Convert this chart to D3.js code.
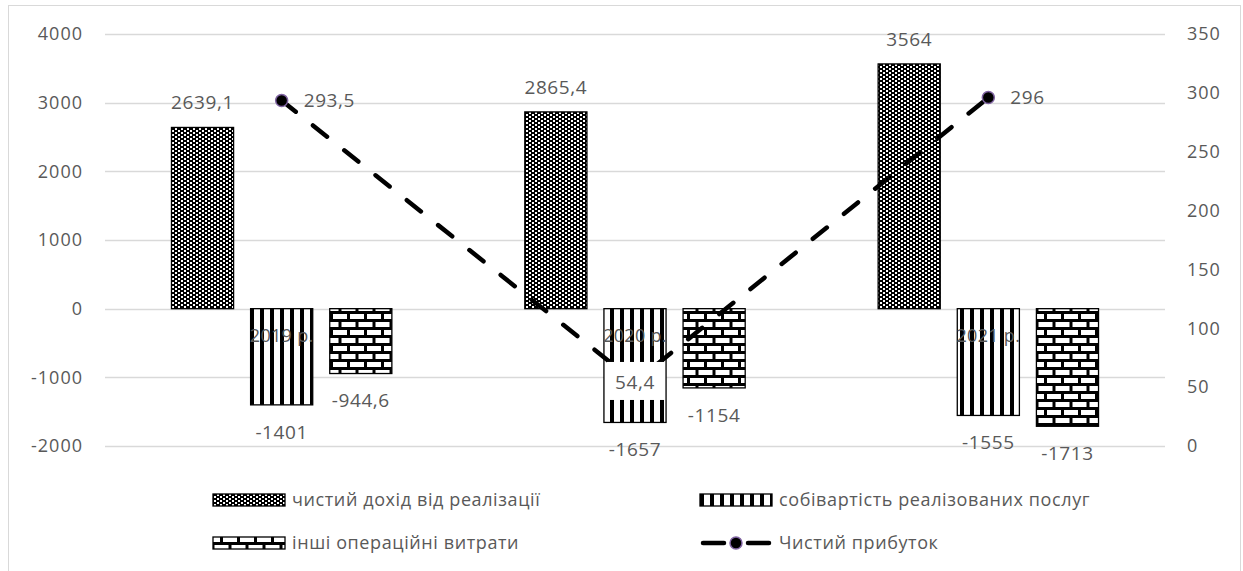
<!DOCTYPE html>
<html>
<head>
<meta charset="utf-8">
<script src="https://cdn.jsdelivr.net/npm/d3@7"></script>
<style>
  body { margin: 0; background: #fff; }
  text { font-family: "Open Sans", sans-serif; fill: #595959; }
</style>
</head>
<body>
<div id="chart"></div>
<script>
// data
var years = ["2019 р.", "2020 р.", "2021 р."];
var seriesNames = ["чистий дохід від реалізації", "собівартість реалізованих послуг", "інші операційні витрати"];
var revenue = [2639.1, 2865.4, 3564];
var cost = [-1401, -1657, -1555];
var otherCosts = [-944.6, -1154, -1713];
var profitName = "Чистий прибуток";
var profit = [293.5, 54.4, 296];
var leftTicks = [-2000, -1000, 0, 1000, 2000, 3000, 4000];
var rightTicks = [0, 50, 100, 150, 200, 250, 300, 350];

var W = 1243, H = 571;
var plot = {left: 105, right: 1165, top: 34, bottom: 446};
var fmt = function(v) { return String(v).replace(".", ","); };

var svg = d3.select("#chart").append("svg").attr("width", W).attr("height", H);
var defs = svg.append("defs");

// pattern 1: dense checker
var p1 = defs.append("pattern").attr("id", "pat0").attr("patternUnits", "userSpaceOnUse")
  .attr("width", 6).attr("height", 4);
p1.append("rect").attr("width", 6).attr("height", 4).attr("fill", "#000");
p1.append("rect").attr("x", 1).attr("y", 0).attr("width", 2).attr("height", 2).attr("fill", "#fff");
p1.append("rect").attr("x", 4).attr("y", 2).attr("width", 2).attr("height", 2).attr("fill", "#fff");

// pattern 2: vertical stripes
var p2 = defs.append("pattern").attr("id", "pat1").attr("patternUnits", "userSpaceOnUse")
  .attr("width", 10).attr("height", 10);
p2.append("rect").attr("width", 10).attr("height", 10).attr("fill", "#fff");
p2.append("rect").attr("x", 0).attr("width", 4).attr("height", 10).attr("fill", "#000");

// pattern 3: bricks
var p3 = defs.append("pattern").attr("id", "pat2").attr("patternUnits", "userSpaceOnUse")
  .attr("width", 17).attr("height", 16);
p3.append("rect").attr("width", 17).attr("height", 16).attr("fill", "#000");
p3.append("rect").attr("x", 1.5).attr("y", 2).attr("width", 14).attr("height", 5).attr("fill", "#fff");
p3.append("rect").attr("x", -7).attr("y", 10).attr("width", 14).attr("height", 5).attr("fill", "#fff");
p3.append("rect").attr("x", 10).attr("y", 10).attr("width", 14).attr("height", 5).attr("fill", "#fff");

// chart border
svg.append("rect").attr("x", 8.5).attr("y", 5.5).attr("width", 1232).attr("height", 570)
  .attr("fill", "none").attr("stroke", "#d9d9d9");

var y = d3.scaleLinear().domain([-2000, 4000]).range([plot.bottom, plot.top]);
var y2 = d3.scaleLinear().domain([0, 350]).range([plot.bottom, plot.top]);
var x0 = d3.scaleBand().domain(years).range([plot.left, plot.right]);
var x1 = d3.scaleBand().domain([0, 1, 2]).range([0, x0.bandwidth()])
  .paddingInner(0.215).paddingOuter(0.84);

// gridlines
svg.append("g").selectAll("line").data(leftTicks).join("line")
  .attr("x1", plot.left).attr("x2", plot.right)
  .attr("y1", function(d) { return Math.round(y(d)) + 0.5; })
  .attr("y2", function(d) { return Math.round(y(d)) + 0.5; })
  .attr("stroke", "#d9d9d9").attr("stroke-width", 1.3);

// axes
var axL = svg.append("g").attr("transform", "translate(" + plot.left + ",0)")
  .call(d3.axisLeft(y).tickValues(leftTicks).tickSize(0).tickPadding(22)
    .tickFormat(function(d) { return String(d); }));
axL.select(".domain").remove();
axL.selectAll("text").style("font-size", "18px").style("letter-spacing", "1px")
  .style("font-family", "Open Sans").attr("fill", "#595959");

var axR = svg.append("g").attr("transform", "translate(" + plot.right + ",0)")
  .call(d3.axisRight(y2).tickValues(rightTicks).tickSize(0).tickPadding(22)
    .tickFormat(function(d) { return String(d); }));
axR.select(".domain").remove();
axR.selectAll("text").style("font-size", "18px").style("letter-spacing", "1px")
  .style("font-family", "Open Sans").attr("fill", "#595959");

// bars
var series = [revenue, cost, otherCosts];
series.forEach(function(vals, s) {
  var g = svg.append("g");
  g.selectAll("rect").data(vals).join("rect")
    .attr("x", function(d, i) { return x0(years[i]) + x1(s); })
    .attr("y", function(d) { return y(Math.max(0, d)); })
    .attr("width", x1.bandwidth())
    .attr("height", function(d) { return Math.abs(y(d) - y(0)); })
    .attr("fill", "url(#pat" + s + ")")
    .attr("stroke", "#000").attr("stroke-width", 1.3);
  g.selectAll("text").data(vals).join("text")
    .attr("x", function(d, i) { return x0(years[i]) + x1(s) + x1.bandwidth() / 2; })
    .attr("y", function(d) { return d >= 0 ? y(d) - 25 : y(d) + 27; })
    .attr("dy", "0.35em")
    .attr("text-anchor", "middle")
    .style("font-size", "19px").style("letter-spacing", "0.6px")
    .text(function(d) { return fmt(d); });
});

// category labels near zero line, drawn over the bars
svg.append("g").selectAll("text").data(years).join("text")
  .attr("x", function(d) { return x0(d) + x0.bandwidth() / 2; })
  .attr("y", y(0) + 27).attr("dy", "0.35em")
  .attr("text-anchor", "middle")
  .style("font-size", "18px").style("letter-spacing", "0.3px")
  .text(function(d) { return d; });

// profit line
var cx = function(d, i) { return x0(years[i]) + x0.bandwidth() / 2; };
var line = d3.line().x(cx).y(function(d) { return y2(d); });
svg.append("path").datum(profit).attr("d", line)
  .attr("fill", "none").attr("stroke", "#000").attr("stroke-width", 4.5)
  .attr("stroke-dasharray", "18,22").attr("stroke-linecap", "round");
svg.append("g").selectAll("circle").data(profit).join("circle")
  .attr("cx", cx).attr("cy", function(d) { return y2(d); }).attr("r", 6)
  .attr("fill", "#000").attr("stroke", "#8064a2").attr("stroke-width", 1.5);

// profit labels
var pl = svg.append("g").selectAll("g").data(profit).join("g")
  .attr("transform", function(d, i) {
    var centered = i === 1;
    return "translate(" + (cx(d, i) + (centered ? 0 : 22)) + "," + y2(d) + ")";
  });
pl.filter(function(d, i) { return i === 1; }).append("rect")
  .attr("x", -28).attr("y", -20).attr("width", 58).attr("height", 38).attr("fill", "#fff");
pl.append("text")
  .attr("text-anchor", function(d, i) { return i === 1 ? "middle" : "start"; })
  .attr("dy", "0.35em")
  .style("font-size", "19px").style("letter-spacing", "0.6px")
  .text(function(d) { return fmt(d); });

// legend
var legend = [
  {name: seriesNames[0], type: "bar", pat: 0, x: 213, y: 500},
  {name: seriesNames[1], type: "bar", pat: 1, x: 700, y: 500},
  {name: seriesNames[2], type: "bar", pat: 2, x: 213, y: 543},
  {name: profitName, type: "line", x: 700, y: 543}
];
var lg = svg.append("g").selectAll("g").data(legend).join("g")
  .attr("transform", function(d) { return "translate(" + d.x + "," + d.y + ")"; });
lg.filter(function(d) { return d.type === "bar"; }).append("rect")
  .attr("x", 0).attr("y", -6).attr("width", 72).attr("height", 12)
  .attr("fill", function(d) { return "url(#pat" + d.pat + ")"; })
  .attr("stroke", "#000").attr("stroke-width", 1.3);
var ll = lg.filter(function(d) { return d.type === "line"; });
ll.selectAll("line").data([[3, 24], [48, 69]]).join("line")
  .attr("x1", function(d) { return d[0]; }).attr("x2", function(d) { return d[1]; })
  .attr("y1", 0).attr("y2", 0)
  .attr("stroke", "#000").attr("stroke-width", 4.5).attr("stroke-linecap", "round");
ll.append("circle").attr("cx", 36).attr("cy", 0).attr("r", 6)
  .attr("fill", "#000").attr("stroke", "#8064a2").attr("stroke-width", 1.5);
lg.append("text").attr("x", 79).attr("dy", "0.35em")
  .style("font-size", "18px").style("letter-spacing", "0.6px")
  .text(function(d) { return d.name; });
</script>
</body>
</html>
